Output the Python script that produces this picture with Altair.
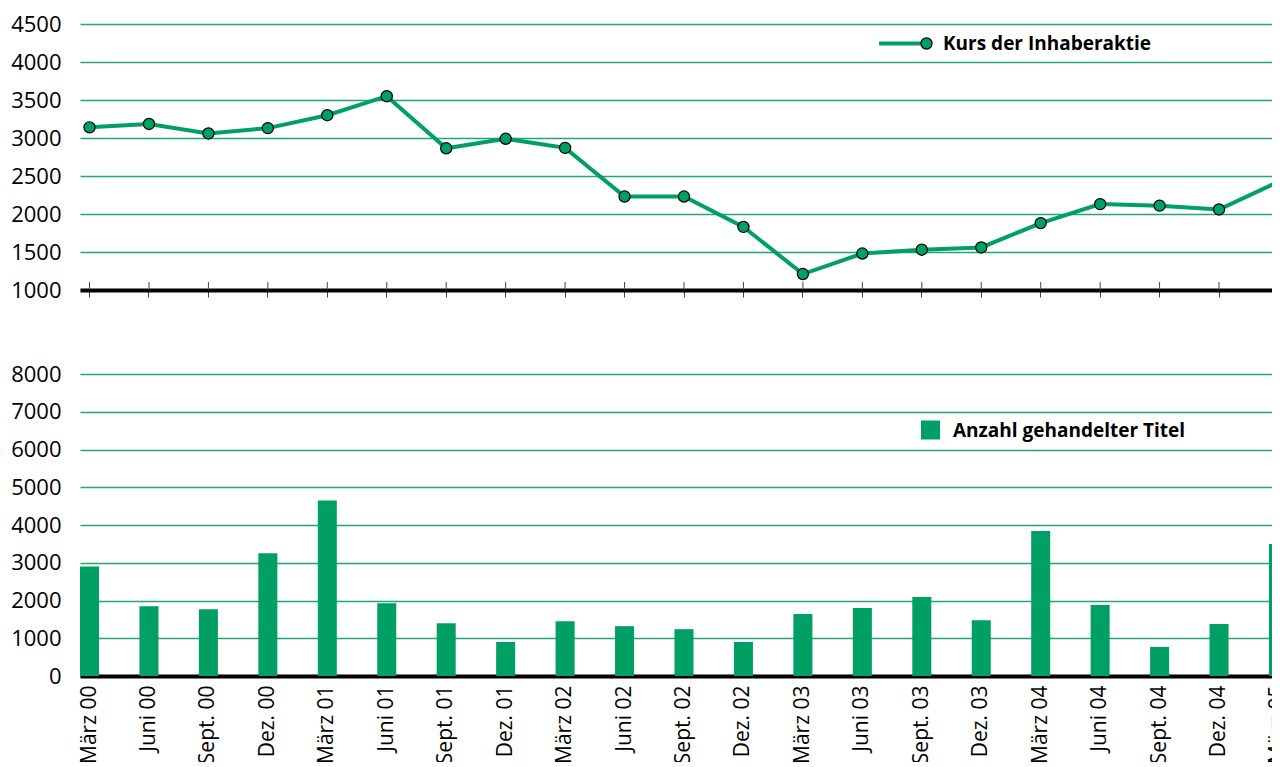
import altair as alt
import pandas as pd

quarters = ["März 00", "Juni 00", "Sept. 00", "Dez. 00",
            "März 01", "Juni 01", "Sept. 01", "Dez. 01",
            "März 02", "Juni 02", "Sept. 02", "Dez. 02",
            "März 03", "Juni 03", "Sept. 03", "Dez. 03",
            "März 04", "Juni 04", "Sept. 04", "Dez. 04",
            "März 05"]
kurs = [3140, 3185, 3060, 3130, 3300, 3550, 2865, 2990, 2870, 2230, 2230,
        1830, 1210, 1480, 1530, 1560, 1880, 2130, 2110, 2060, 2425]
titel = [2900, 1850, 1770, 3250, 4650, 1930, 1400, 900, 1450, 1320, 1240,
         900, 1640, 1800, 2090, 1480, 3840, 1880, 770, 1380, 3500]
kurs_ticks = [1000, 1500, 2000, 2500, 3000, 3500, 4000, 4500]
titel_ticks = [0, 1000, 2000, 3000, 4000, 5000, 6000, 7000, 8000]
kurs_label = ["Kurs der Inhaberaktie"]
titel_label = ["Anzahl gehandelter Titel"]

GREEN = "#00a064"
GRID = "#22a676"
FONT = "Open Sans"
W = 1208
H_TOP = 266
H_BOT = 302

df = pd.DataFrame({"Quartal": quarters, "Kurs": kurs, "Titel": titel})
xscale = alt.Scale(domain=quarters, paddingInner=0.68, paddingOuter=0)

yaxis_common = dict(title=None, grid=True, gridColor=GRID, gridWidth=1.5,
                    domain=False, ticks=False, labelPadding=19, format="d",
                    labelOverlap=False, labelFontSize=22, labelFont=FONT,
                    labelColor="black")

x_top = alt.X("Quartal:N", sort=quarters, scale=xscale,
              axis=alt.Axis(labels=False, title=None, domainColor="black",
                            domainWidth=4, tickColor="#444", tickSize=7,
                            tickWidth=1, grid=False))
y_top = alt.Y("Kurs:Q", scale=alt.Scale(domain=[1000, 4500], nice=False, zero=False),
              axis=alt.Axis(values=kurs_ticks, **yaxis_common))

base = alt.Chart(df)
line = base.mark_line(color=GREEN, strokeWidth=4).encode(x=x_top, y=y_top)
up_ticks = base.mark_rule(color="#444", strokeWidth=1).encode(
    x=x_top, y=alt.value(H_TOP - 8), y2=alt.value(H_TOP))
pts = base.mark_point(filled=True, fill=GREEN, stroke="black", strokeWidth=1.2,
                      size=125, opacity=1).encode(x=x_top, y=y_top)

leg1 = alt.Chart(pd.DataFrame({"label": kurs_label}))
leg1_line = leg1.mark_rule(color=GREEN, strokeWidth=4).encode(
    x=alt.value(799), x2=alt.value(845), y=alt.value(19.5))
leg1_pt = leg1.mark_point(filled=True, fill=GREEN, stroke="black", strokeWidth=1.2,
                          size=125, opacity=1).encode(x=alt.value(846.5), y=alt.value(19.5))
leg1_txt = leg1.mark_text(align="left", baseline="middle", font=FONT, fontWeight="bold",
                          fontSize=19, color="black").encode(
    x=alt.value(863), y=alt.value(20), text="label:N")

top = alt.layer(line, up_ticks, pts, leg1_line, leg1_pt, leg1_txt).properties(
    width=W, height=H_TOP)

x_bot = alt.X("Quartal:N", sort=quarters, scale=xscale,
              axis=alt.Axis(title=None, labelAngle=270, labelFontSize=21,
                            labelFont=FONT, labelColor="black", ticks=False,
                            domainColor="black", domainWidth=4, labelPadding=9))
y_bot = alt.Y("Titel:Q", scale=alt.Scale(domain=[0, 8000], nice=False),
              axis=alt.Axis(values=titel_ticks, **yaxis_common))
bars = base.mark_bar(color=GREEN).encode(x=x_bot, y=y_bot)

leg2 = alt.Chart(pd.DataFrame({"label": titel_label}))
leg2_sq = leg2.mark_square(color=GREEN, size=361, opacity=1).encode(
    x=alt.value(850.5), y=alt.value(56))
leg2_txt = leg2.mark_text(align="left", baseline="middle", font=FONT, fontWeight="bold",
                          fontSize=19, color="black").encode(
    x=alt.value(873), y=alt.value(57), text="label:N")

bottom = alt.layer(bars, leg2_sq, leg2_txt).properties(width=W, height=H_BOT)

chart = alt.vconcat(top, bottom, spacing=84, bounds="flush").properties(
    padding={"left": 2, "top": 5, "right": -16, "bottom": -2}
).configure_view(stroke=None)

chart.save("out.html", embed_options={"renderer": "svg", "actions": False})
